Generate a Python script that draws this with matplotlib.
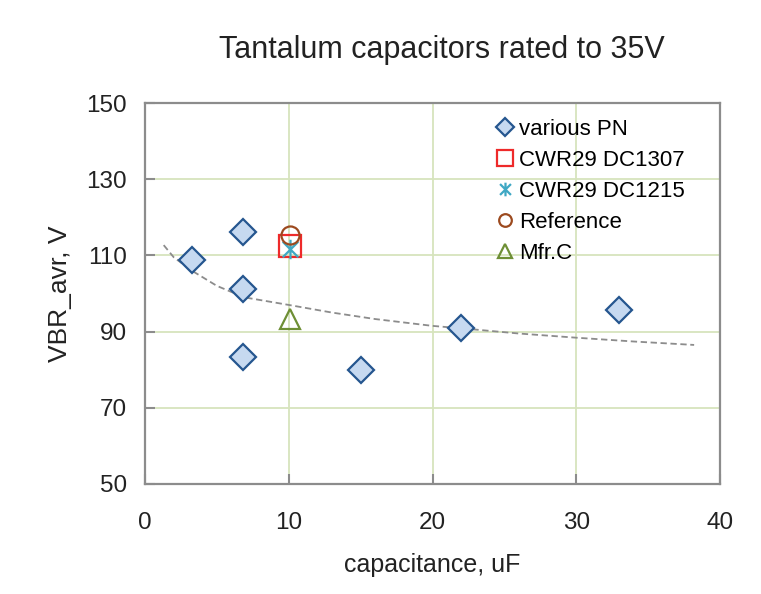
import matplotlib
matplotlib.use('Agg')
import matplotlib.pyplot as plt
from matplotlib.path import Path

plt.rcParams['font.family'] = ['Liberation Sans', 'DejaVu Sans']

# data
pn_x = [3.3, 6.8, 6.8, 6.8, 15, 22, 33]
pn_y = [108.7, 116.1, 101.2, 83.4, 80.0, 91.0, 95.7]
dc1307_x = [10.1]
dc1307_y = [112.4]
dc1215_x = [10.1]
dc1215_y = [111.8]
ref_x = [10.1]
ref_y = [115.3]
mfrc_x = [10.1]
mfrc_y = [93.3]
trend_x = [1.3, 2, 3.3, 5, 6.9, 10, 13, 16, 20, 22.2, 26, 30, 34, 38.2]
trend_y = [112.7, 109.5, 105.9, 102, 99, 97, 95, 93.3, 91.5, 90.8, 89.5, 88.4, 87.4, 86.5]

xticks = [0, 10, 20, 30, 40]
yticks = [50, 70, 90, 110, 130, 150]

# asterisk like excel: vertical line + X
star = Path([(0, -1), (0, 1), (-0.8, -0.8), (0.8, 0.8), (-0.8, 0.8), (0.8, -0.8)],
            [Path.MOVETO, Path.LINETO, Path.MOVETO, Path.LINETO, Path.MOVETO, Path.LINETO])

fig = plt.figure(figsize=(7.61, 5.94), dpi=100)
ax = fig.add_axes([145/761, 1-484/594, 575/761, 381/594])

grid_c = '#d7e4bd'
for x in xticks[1:-1]:
    ax.axvline(x, color=grid_c, lw=1.3, zorder=0)
for y in yticks[1:-1]:
    ax.axhline(y, color=grid_c, lw=1.3, zorder=0)

ax.plot(trend_x, trend_y, ls=(0, (3.5, 2)), color='#8c8c8c', lw=1.3, zorder=1)

ax.plot(pn_x, pn_y, ls='none', marker='D', ms=13, mfc='#c6d9f0', mec='#25568f', mew=1.6,
        label='various PN', zorder=3)
ax.plot(dc1307_x, dc1307_y, ls='none', marker='s', ms=16, mfc='none', mec='#ee2a2a', mew=1.6,
        label='CWR29 DC1307', zorder=3)
ax.plot(dc1215_x, dc1215_y, ls='none', marker=star, ms=14, mfc='none', mec='#3fa8c4', mew=1.6,
        label='CWR29 DC1215', zorder=4)
ax.plot(ref_x, ref_y, ls='none', marker='o', ms=13, mfc='none', mec='#9c4a1f', mew=1.6,
        label='Reference', zorder=4)
ax.plot(mfrc_x, mfrc_y, ls='none', marker='^', ms=15, mfc='none', mec='#6e8f35', mew=1.6,
        label='Mfr.C', zorder=3)

ax.set_xlim(0, 40)
ax.set_ylim(50, 150)
ax.set_xticks(xticks)
ax.set_yticks(yticks)
ax.tick_params(direction='in', length=7, width=1.5, color='#8c8c8c', labelsize=17.5,
               labelcolor='#222222')
ax.tick_params(axis='x', pad=20)
ax.tick_params(axis='y', pad=13)
for s in ax.spines.values():
    s.set_color('#8c8c8c')
    s.set_linewidth(1.6)

ax.set_xlabel('capacitance, uF', fontsize=18, color='#222222', labelpad=14)
ax.set_ylabel('VBR_avr, V', fontsize=19, color='#222222', labelpad=10)

fig.text(442/761, 1-50/594, 'Tantalum capacitors rated to 35V', fontsize=22,
         ha='center', va='center', color='#222222')

leg = ax.legend(loc='upper left', bbox_to_anchor=(0.575, 1.01), frameon=False, fontsize=16,
                handlelength=0.8, handletextpad=0.25, labelspacing=0.45, markerscale=0.7)

fig.savefig('out.png', dpi=100)
